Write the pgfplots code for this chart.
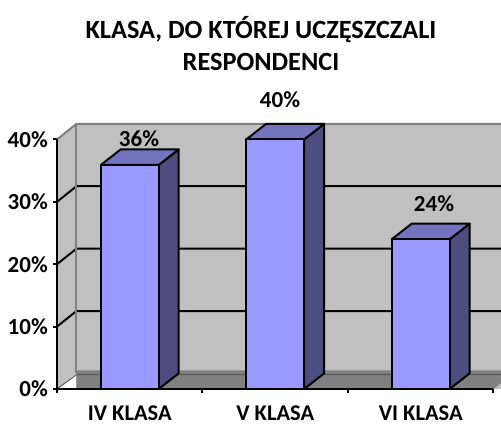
\documentclass[border=0pt]{standalone}
\usepackage{pgfplots}
\pgfplotsset{compat=1.18}
\usepackage{fontspec}
\setmainfont{Carlito}
\definecolor{wall}{HTML}{C0C0C0}
\definecolor{edge}{HTML}{808080}
\definecolor{floorc}{HTML}{808080}
\definecolor{barf}{HTML}{9999FF}
\definecolor{bart}{HTML}{7373BF}
\definecolor{bars}{HTML}{4D4D80}
\begin{document}
\begin{tikzpicture}[x=1pt,y=1pt]
\path[use as bounding box] (-57,-35) rectangle (444,389);
\begin{axis}[
  at={(0pt,0pt)},anchor=origin,
  scale only axis,width=436.5pt,height=249.6pt,
  xmin=0,xmax=3,ymin=0,ymax=40,
  clip=false,axis on top,
  axis x line*=bottom,axis y line*=left,
  axis line style={line width=2pt,black},
  xtick={0.5,1.5,2.5},xticklabels={IV KLASA,V KLASA,VI KLASA},
  minor xtick={0,1,2,3},
  ytick={0,10,20,30,40},yticklabels={0\%,10\%,20\%,30\%,40\%},
  tick style={black,line width=2pt},
  major x tick style={draw=none},
  minor tick length=4pt,major tick length=4pt,
  tick align=outside,
  x tick label style={font=\bfseries\fontsize{22.5}{24}\selectfont,inner sep=0pt,anchor=base,yshift=-27pt},
  y tick label style={font=\bfseries\fontsize{23}{26}\selectfont,inner sep=1pt,xshift=-4pt},
  /pgf/number format/assume math mode=true,
]
% walls
\addplot[fill=wall,draw=none] coordinates {(0,0)(0.134,2.5)(0.134,42.5)(0,40)} \closedcycle;
\addplot[fill=wall,draw=none] coordinates {(0.134,2.5)(0.134,42.5)(3.06,42.5)(3.06,2.5)} \closedcycle;
% floor
\addplot[fill=floorc,draw=none] coordinates {(0,0)(3,0)(3.06,1.1)(3.06,3.0)(0.134,3.0)} \closedcycle;
% grid
\addplot[black,line width=2pt] coordinates {(0,10)(0.134,12.5)(3.06,12.5)};
\addplot[black,line width=2pt] coordinates {(0,20)(0.134,22.5)(3.06,22.5)};
\addplot[black,line width=2pt] coordinates {(0,30)(0.134,32.5)(3.06,32.5)};
\addplot[edge!70!black,line width=1pt] coordinates {(0,0)(0.134,2.3)(3.06,2.3)};
% wall edges
\addplot[edge,line width=2pt] coordinates {(0,40)(0.134,42.5)(3.06,42.5)};
\addplot[edge,line width=2pt] coordinates {(0.134,42.5)(0.134,2.5)};
% bars
\addplot[fill=bars,draw=black,line width=2pt,line join=round] coordinates {(0.699,0)(0.699,35.9)(0.836,38.4)(0.836,2.5)} -- cycle;
\addplot[fill=bart,draw=black,line width=2pt,line join=round] coordinates {(0.301,35.9)(0.699,35.9)(0.836,38.4)(0.438,38.4)} -- cycle;
\addplot[fill=barf,draw=black,line width=2pt,line join=round] coordinates {(0.301,0)(0.301,35.9)(0.699,35.9)(0.699,0)} -- cycle;
\addplot[fill=bars,draw=black,line width=2pt,line join=round] coordinates {(1.699,0)(1.699,40)(1.836,42.5)(1.836,2.5)} -- cycle;
\addplot[fill=bart,draw=black,line width=2pt,line join=round] coordinates {(1.301,40)(1.699,40)(1.836,42.5)(1.438,42.5)} -- cycle;
\addplot[fill=barf,draw=black,line width=2pt,line join=round] coordinates {(1.301,0)(1.301,40)(1.699,40)(1.699,0)} -- cycle;
\addplot[fill=bars,draw=black,line width=2pt,line join=round] coordinates {(2.699,0)(2.699,24)(2.836,26.5)(2.836,2.5)} -- cycle;
\addplot[fill=bart,draw=black,line width=2pt,line join=round] coordinates {(2.301,24)(2.699,24)(2.836,26.5)(2.438,26.5)} -- cycle;
\addplot[fill=barf,draw=black,line width=2pt,line join=round] coordinates {(2.301,0)(2.301,24)(2.699,24)(2.699,0)} -- cycle;
\end{axis}
\node[font=\bfseries\fontsize{23}{26}\selectfont] at (82,250.5) {36\%};
\node[font=\bfseries\fontsize{23}{26}\selectfont] at (223,289) {40\%};
\node[font=\bfseries\fontsize{23}{26}\selectfont] at (377,185) {24\%};
\node[font=\bfseries\fontsize{26.3}{30}\selectfont] at (204,359) {KLASA, DO KTÓREJ UCZĘSZCZALI};
\node[font=\bfseries\fontsize{26.3}{30}\selectfont] at (204,327) {RESPONDENCI};
\end{tikzpicture}
\end{document}
